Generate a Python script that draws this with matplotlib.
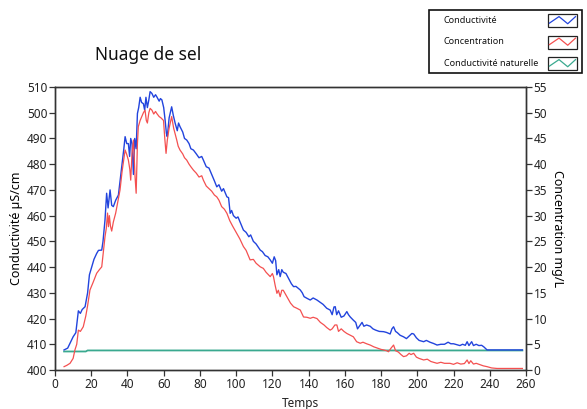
import matplotlib
matplotlib.use("Agg")
import matplotlib.pyplot as plt
from matplotlib.patches import Rectangle
from matplotlib.lines import Line2D

plt.rcParams['font.family'] = ['Noto Sans', 'DejaVu Sans']

# ---------------- data ----------------
t_cond = [5, 7, 10, 11.5, 12.9, 14, 15, 16.6, 18, 19, 20.3, 21.5, 23, 24, 25.8, 26.5, 27.6, 28.5, 29.3, 30.4,
          31.3, 32.2, 33.5, 35, 36, 36.8, 38, 38.7, 39.6, 40.5, 41.2, 41.8, 42.5, 43.3, 44, 44.8, 45.5, 46.2,
          47, 47.8, 48.8, 49.5, 50.2, 51, 51.8, 52.5, 53.5, 54.5, 55.5, 56.2, 57.5, 58.2, 59, 60, 60.8, 61.5,
          62, 63, 64.4, 65.3, 66.3, 67.5, 68.2, 69, 70.5, 71.5, 72.7, 74, 75, 76.4, 78, 79.5, 81, 81.9, 83.5,
          85, 86.5, 88, 89.3, 90.5, 92, 93, 94.9, 95.8, 96.7, 97.5, 98.5, 100, 101, 102.5, 104, 105.5, 107,
          108, 109.5, 111, 113.3, 114.5, 116, 117.5, 118.8, 120, 121, 121.8, 122.5, 123.5, 124.3, 125.2, 126,
          127.5, 129, 130.5, 131.7, 133, 135.4, 136.5, 137.5, 139, 140.9, 142.5, 144.6, 146, 148, 150, 151.9,
          153, 154, 154.7, 155.5, 156.5, 158, 159.5, 161.1, 162, 163, 164.5, 166, 167, 168.5, 169.5, 170.5,
          172, 174, 175.5, 177, 179, 181.4, 183, 185, 186, 186.9, 188, 189, 190.5, 192.4, 194, 196, 197, 198,
          199.5, 201, 203.5, 205, 207, 209, 210.9, 213, 215, 217, 218.5, 220, 222, 223.5, 225, 226.5, 227.5,
          228.5, 230, 231, 232.5, 234, 235.5, 236.7, 238.5, 258]
conductivite = [407.8, 408.5, 412.9, 414.5, 423, 422, 423.5, 424.6, 430, 437, 440.1, 443, 445.3, 446.5, 446.6,
                450, 458.3, 468.7, 463, 470, 464, 463.5, 466, 468, 474, 479, 486, 490.7, 488, 488, 483, 490,
                488, 476, 490, 486, 499.7, 502, 506, 504, 503.5, 501, 506, 502, 505, 508.2, 507.5, 506, 507,
                506.2, 504.5, 505.5, 505, 502, 497, 492, 490.7, 498, 502.3, 499, 496, 493, 496, 494.6, 492.5,
                490, 489.4, 488, 486, 485.5, 484, 482.5, 483, 481.6, 479, 478.5, 476, 473.5, 471.2, 472, 469.5,
                470.5, 467.3, 467, 460.9, 462, 460, 459, 459.5, 457, 454.4, 453.5, 451.8, 452.5, 450, 449,
                446.6, 446, 444.5, 444, 442.8, 441.5, 444, 442.5, 437, 439, 436.3, 439, 438, 437.5, 435.5,
                433.5, 432.4, 432.5, 431.1, 430, 428.5, 427.9, 427.2, 428, 427.2, 426.5, 425.5, 424, 423.3,
                421.5, 424.5, 424.6, 421.5, 423, 420.5, 421, 422.7, 421.5, 420.6, 419.5, 418.5, 416, 417.5,
                418.5, 417, 417.5, 417, 416, 415.5, 415, 414.9, 414.6, 414, 416, 416.8, 415, 414.5, 413.5,
                412.9, 412.2, 413.5, 414.2, 414, 412.5, 411.5, 411, 411.5, 410.8, 410.3, 409.7, 410, 410,
                410.8, 410.2, 410.2, 409.8, 409.5, 410, 409.6, 411, 409.5, 411, 409.5, 410, 409.5, 409.6,
                409, 407.8, 407.8]

t_conc = [5, 6.5, 8.3, 10, 11, 12, 12.9, 14, 15.6, 17, 18, 19.3, 21, 23, 24.5, 25.8, 26.7, 27.6, 28.3, 29,
          29.5, 30, 30.6, 31.3, 32.2, 33.5, 34.8, 35.9, 37, 37.8, 38.7, 39.5, 40.5, 41.3, 41.8, 42.5, 43.3,
          44.2, 44.8, 45.5, 46, 47, 47.9, 48.8, 49.7, 50.4, 51, 51.8, 52.5, 53.5, 54.5, 55.5, 56.2, 57.5,
          58.5, 59.9, 60.6, 61.3, 62, 63, 64.4, 65.5, 67.2, 68, 69, 70.5, 71.5, 72.7, 74, 75, 76.4, 78, 79.5,
          81, 81.9, 83.5, 85, 86.5, 88, 89.3, 90.5, 92, 93.5, 94.9, 96.5, 98, 100, 102, 104, 105.5, 107.7,
          109.5, 111, 113.3, 115, 116.5, 118.8, 120, 120.6, 121.5, 122.5, 123.3, 124.3, 125.2, 126, 128, 130,
          131.7, 133.5, 135.4, 137.2, 139, 140.9, 142.5, 144.6, 146.5, 148.5, 150, 151.9, 153, 154.5, 155.6,
          156.5, 158, 159.5, 161.1, 163, 164.7, 166.5, 168.5, 170, 172, 174, 176, 178, 180, 181.4, 183, 184.1,
          185.5, 186.9, 188, 189.5, 191, 192.4, 194, 195.5, 196.5, 198, 199.5, 201, 203.5, 205.5, 207.5, 209,
          210.9, 213, 215, 218, 220, 222, 224, 226, 227.5, 228.5, 229.5, 231, 232.5, 234.8, 236.5, 238.5,
          241, 244, 258]
concentration = [0.65, 0.9, 1.3, 2.25, 3.9, 5, 7.75, 7.5, 8.4, 10.5, 12.5, 15.55, 17, 18.8, 19.5, 20.05, 23,
                 25.9, 27.5, 30.5, 27.85, 30, 28, 27, 28.75, 30.5, 33, 35, 38.5, 40.5, 42.75, 42, 40.8, 39,
                 36.9, 42, 44.7, 37.5, 34.35, 44, 47.3, 48.5, 49.25, 50, 50.5, 48.5, 48, 50, 50.85, 50.5,
                 49.75, 50.25, 49.85, 49.25, 49, 48.5, 45, 42.1, 44.7, 47, 49.25, 47, 44.7, 43.5, 42.75, 42,
                 41.25, 40.8, 40, 39.5, 38.85, 38.25, 37.5, 37.75, 36.9, 35.75, 35.25, 34.75, 34, 33.65, 33,
                 31.75, 31.25, 30.45, 29, 28, 26.75, 25.5, 24, 23.25, 21.4, 21.5, 20.75, 20.05, 19.75, 19,
                 18.15, 18.75, 18.15, 16.5, 14.9, 15.5, 14.25, 15.5, 15.5, 14.25, 13, 12.3, 12, 11.65, 10.3,
                 10.25, 10.05, 10.25, 10, 9.25, 8.75, 8.25, 7.75, 8, 8.75, 8.75, 7.5, 8, 7.5, 7.1, 6.75, 6.45,
                 5.5, 5.2, 5.4, 5.1, 4.85, 4.5, 4.25, 4, 3.9, 3.75, 3.55, 4.25, 4.85, 3.75, 3.5, 3, 2.6, 2.75,
                 3.25, 3, 3.25, 2.5, 2.25, 1.95, 2.1, 1.65, 1.5, 1.3, 1.5, 1.3, 1.3, 1.1, 1.4, 1.15, 1.25,
                 1.95, 1.25, 1.8, 1.15, 1.3, 1, 0.8, 0.65, 0.4, 0.3, 0.3]

t_nat = [5, 17, 18, 258]
cond_naturelle = [407.2, 407.2, 407.6, 407.6]

x_ticks = list(range(0, 261, 20))
y_left_ticks = list(range(400, 511, 10))
y_right_ticks = list(range(0, 56, 5))

title = "Nuage de sel"
legend_labels = ["Conductivité", "Concentration", "Conductivité naturelle"]

C_BLUE = "#2244dd"
C_RED = "#f45050"
C_TEAL = "#3aa98f"

# ---------------- figure ----------------
W, H = 587, 409
fig = plt.figure(figsize=(W / 100, H / 100), dpi=100)
ax = fig.add_axes([55 / W, 1 - 370 / H, (526 - 55) / W, (370 - 87) / H])
ax2 = ax.twinx()

ax.plot(t_nat, cond_naturelle, color=C_TEAL, lw=1.3, zorder=2)
ax.plot(t_cond, conductivite, color=C_BLUE, lw=1.0, zorder=3)
ax2.plot(t_conc, concentration, color=C_RED, lw=0.9)

ax.set_xlim(0, 260)
ax.set_ylim(400, 510)
ax2.set_ylim(0, 55)
ax.set_xticks(x_ticks)
ax.set_yticks(y_left_ticks)
ax2.set_yticks(y_right_ticks)

for a in (ax, ax2):
    for s in a.spines.values():
        s.set_color("#333333")
        s.set_linewidth(1.0)
    a.tick_params(labelsize=8.5, length=4, width=0.9, color="#333333", pad=1.5, labelcolor="#222222")

ax.set_ylabel("Conductivité µS/cm", fontsize=9, labelpad=3)
ax2.set_ylabel("Concentration mg/L", fontsize=9, rotation=270, labelpad=12)
fig.text(300 / W, 1 - 404 / H, "Temps", fontsize=8.5, ha="center", va="center", color="#222222")

fig.text(95 / W, 1 - 55 / H, title, fontsize=12.5, ha="left", va="center", color="#111111")

# ---------------- legend box ----------------
fig.patches.append(Rectangle((429 / W, 1 - 73 / H), (582 - 429) / W, (73 - 10) / H,
                             transform=fig.transFigure, fill=False, edgecolor="#111111", lw=1.2))
colors = [C_BLUE, C_RED, C_TEAL]
rows_y = [20.5, 42, 63.5]
for lab, col, ry in zip(legend_labels, colors, rows_y):
    fig.text(444 / W, 1 - ry / H, lab, fontsize=6.5, ha="left", va="center", color="#111111")
    bx0, bx1 = 548, 577
    by0, by1 = ry - 6.5, ry + 6.5
    fig.patches.append(Rectangle((bx0 / W, 1 - by1 / H), (bx1 - bx0) / W, (by1 - by0) / H,
                                 transform=fig.transFigure, fill=False, edgecolor="#222222", lw=0.9))
    zx = [0.05, 0.38, 0.68, 0.95]
    zy = [0.3, 0.8, 0.25, 0.8]
    xs = [(bx0 + f * (bx1 - bx0)) / W for f in zx]
    ys = [1 - (by1 - f * (by1 - by0)) / H for f in zy]
    fig.lines.append(Line2D(xs, ys, transform=fig.transFigure, color=col, lw=0.9))

fig.savefig("out.png", dpi=100)
